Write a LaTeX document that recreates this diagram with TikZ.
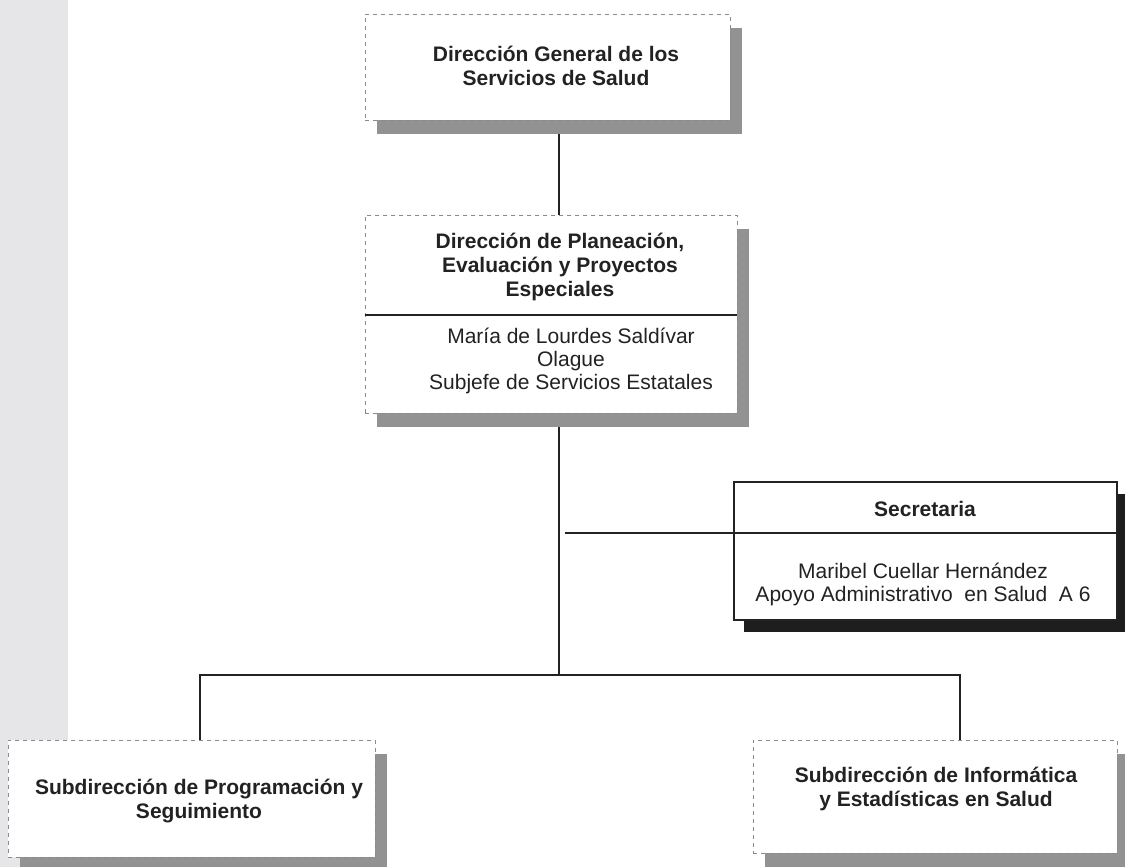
\documentclass[tikz,border=0pt]{standalone}
\usepackage{fontspec}
\setmainfont{Liberation Sans}
\usetikzlibrary{shadows,calc}
\definecolor{ink}{HTML}{222222}
\definecolor{shade}{HTML}{929292}
\definecolor{dashc}{HTML}{8A8A8A}
\definecolor{stripc}{HTML}{E6E6E8}
\definecolor{darkshade}{HTML}{1E1E1E}
\pgfdeclarelayer{bg}
\pgfsetlayers{bg,main}
\begin{document}
\begin{tikzpicture}[x=1pt,y=-1pt,
  dbox/.style={draw=dashc, line width=0.7pt, dash pattern=on 4pt off 4pt, fill=white, inner sep=0pt,
    drop shadow={shadow xshift=12pt, shadow yshift=-14pt, fill=shade, opacity=1}},
  sbox/.style={draw=ink, line width=1.4pt, fill=white, inner sep=0pt,
    drop shadow={shadow xshift=10pt, shadow yshift=-12pt, fill=darkshade, opacity=1}},
  ttl/.style={font=\bfseries\fontsize{21}{24}\selectfont, align=center, text=ink, inner sep=0pt},
  nm/.style={font=\fontsize{21}{23}\selectfont, align=center, text=ink, inner sep=0pt},
  conn/.style={draw=ink, line width=1.6pt},
  divl/.style={draw=ink, line width=1.3pt}]
\useasboundingbox (0,0) rectangle (1125,867);
\clip (0,0) rectangle (1125,867);
% boxes
\node[dbox, minimum width=365pt, minimum height=106pt] (top) at (547.5,67) {};
\node[ttl] (toptxt) at (556,65.5) {Dirección General de los\\Servicios de Salud};
\node[dbox, minimum width=372pt, minimum height=198pt] (mid) at (551,314) {};
\coordinate (middiv) at (0,315);
\draw[divl] (mid.west |- middiv) -- (mid.east |- middiv);
\node[ttl] (midttl) at (560,266.5) {Dirección de Planeación,\\Evaluación y Proyectos\\Especiales};
\node[nm] (midnm) at (571,361) {María de Lourdes Saldívar\\Olague\\Subjefe de Servicios Estatales};
\node[sbox, minimum width=383pt, minimum height=138pt] (sec) at (925.5,551) {};
\coordinate (secdiv) at (0,533);
\draw[divl] (sec.west |- secdiv) -- (sec.east |- secdiv);
\node[ttl] (secttl) at (925,509) {Secretaria};
\node[nm] (secnm) at (923,584.5) {Maribel Cuellar Hernández\\Apoyo Administrativo\ \ en Salud\ \ A 6};
\node[dbox, minimum width=367pt, minimum height=117pt] (bl) at (191.5,798.5) {};
\node[ttl] (bltxt) at (199,801) {Subdirección de Programación y\\Seguimiento};
\node[dbox, minimum width=364pt, minimum height=113pt] (br) at (935,796.5) {};
\node[ttl] (brtxt) at (936,789) {Subdirección de Informática\\y Estadísticas en Salud};
% connectors
\coordinate (trunk) at (559,675);
\coordinate (busL) at (200,675);
\coordinate (busR) at (960,675);
\coordinate (secL) at (565,533);
\begin{pgfonlayer}{bg}
\fill[stripc] (0,0) rectangle (68,867);
\draw[conn] (top.south -| trunk) -- (mid.north -| trunk);
\draw[conn] (mid.south -| trunk) -- (trunk);
\draw[conn] (bl.north -| busL) -- (busL) -- (busR) -- (br.north -| busR);
\draw[conn] (secL) -- (sec.west |- secL);
\end{pgfonlayer}
\end{tikzpicture}
\end{document}
